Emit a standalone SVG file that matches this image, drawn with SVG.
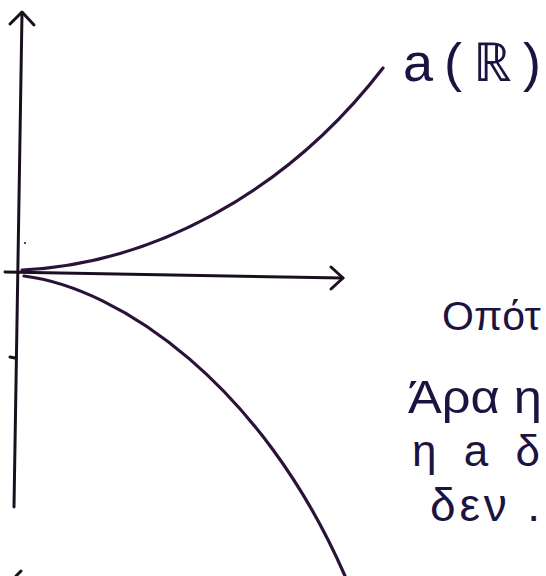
<svg xmlns="http://www.w3.org/2000/svg" width="546" height="576" viewBox="0 0 546 576">
<style>
.ax{fill:none;stroke:#1a0f1f;stroke-width:3;stroke-linecap:round;stroke-linejoin:round}
.cv{fill:none;stroke:#2a1238;stroke-width:3.2;stroke-linecap:round}
.t{font-family:"Liberation Sans",sans-serif;fill:#1c1440}
</style>
<rect width="546" height="576" fill="#ffffff"/>
<g id="connectors">
<g id="y-axis"><path class="ax" d="M14,507 L22,13"/><path class="ax" d="M10,24 L22,12 L34,25"/></g>
<g id="x-axis"><path class="ax" d="M5,272 L343,278"/><path class="ax" d="M331,267 L343,278 L331,289"/></g>
<path class="ax" d="M10,357 L15,358" stroke-width="2"/>
<path class="ax" d="M16,576 L21,571" stroke-width="2.5"/>
<circle cx="25" cy="243" r="1" fill="#1a0f1f"/>
</g>
<g id="upper-curve"><path class="cv" d="M22,270 C150,264 285,195 383,68"/></g>
<g id="lower-curve"><path class="cv" d="M24,276 C120,288 262,385 345,576"/></g>
<g id="label-aR"><text class="t" x="403" y="81" font-size="54" textLength="138" lengthAdjust="spacing">a(ℝ)</text></g>
<g id="text-block">
<text class="t" x="442" y="330" font-size="41">Οπότ</text>
<text class="t" x="408" y="413" font-size="46" textLength="134" lengthAdjust="spacingAndGlyphs">Άρα η</text>
<text class="t" x="412" y="466" font-size="44" textLength="128" lengthAdjust="spacing">η a δ</text>
<text class="t" x="430" y="521" font-size="46" textLength="110" lengthAdjust="spacing">δεν .</text>
</g>
</svg>
